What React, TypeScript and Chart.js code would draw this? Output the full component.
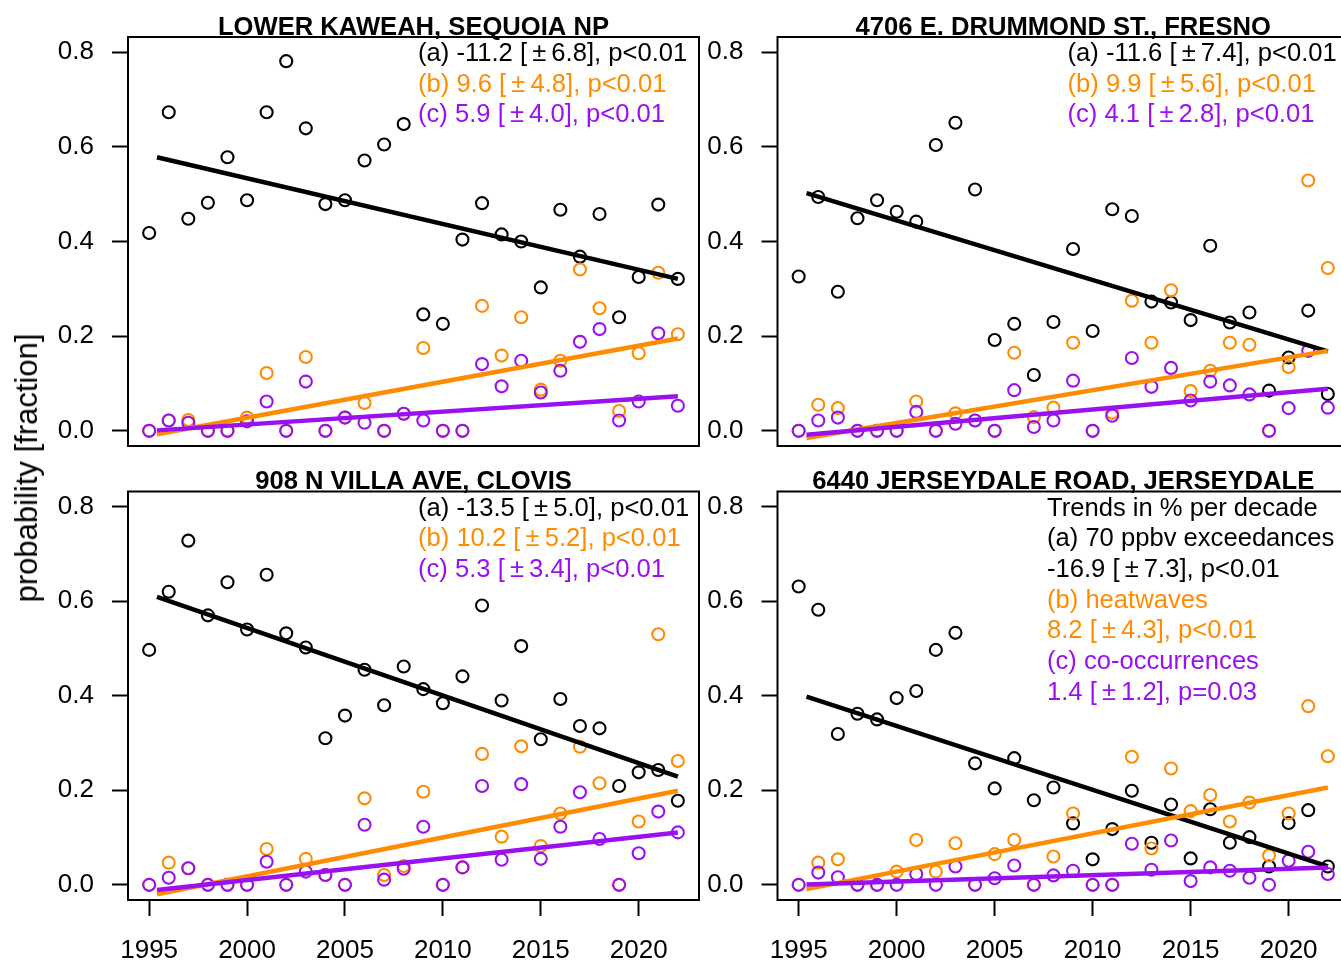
import React, { useEffect, useRef } from "react";
import { Chart, registerables } from "chart.js";

Chart.register(...registerables);

// ---------------- data ----------------
const years = [
  1995, 1996, 1997, 1998, 1999, 2000, 2001, 2002, 2003, 2004, 2005, 2006, 2007, 2008,
  2009, 2010, 2011, 2012, 2013, 2014, 2015, 2016, 2017, 2018, 2019, 2020, 2021, 2022,
];
const xTickYears = [1995, 2000, 2005, 2010, 2015, 2020];
const yTickValues = [0, 0.2, 0.4, 0.6, 0.8];
const trendYears = [1995.4, 2022];

// LOWER KAWEAH, SEQUOIA NP
const kaweahExceed = [0.418, 0.673, 0.448, 0.482, 0.578, 0.487, 0.673, 0.781, 0.639, 0.479, 0.487, 0.571, 0.605, 0.648, 0.246, 0.226, 0.404, 0.481, 0.415, 0.4, 0.303, 0.467, 0.368, 0.458, 0.24, 0.325, 0.478, 0.321];
const kaweahHeat = [0, 0.022, 0.023, 0, 0, 0.028, 0.122, 0, 0.156, 0, 0.028, 0.059, 0, 0.036, 0.175, 0, 0, 0.264, 0.159, 0.24, 0.087, 0.148, 0.341, 0.259, 0.042, 0.164, 0.334, 0.204];
const kaweahCooc = [0, 0.022, 0.017, 0, 0, 0.02, 0.062, 0, 0.104, 0, 0.028, 0.017, 0, 0.036, 0.022, 0, 0, 0.141, 0.094, 0.148, 0.081, 0.127, 0.188, 0.215, 0.022, 0.062, 0.206, 0.053];
const kaweahTrendExceed = [0.578, 0.321];
const kaweahTrendHeat = [-0.007, 0.195];
const kaweahTrendCooc = [0.001, 0.073];

// 4706 E. DRUMMOND ST., FRESNO
const fresnoExceed = [0.326, 0.494, 0.294, 0.449, 0.487, 0.463, 0.442, 0.604, 0.651, 0.51, 0.192, 0.226, 0.118, 0.23, 0.384, 0.211, 0.468, 0.454, 0.273, 0.271, 0.234, 0.391, 0.229, 0.25, 0.085, 0.155, 0.254, 0.078];
const fresnoHeat = [0, 0.055, 0.048, 0, 0, 0, 0.062, 0, 0.037, 0.022, 0, 0.165, 0.029, 0.049, 0.186, 0, 0.038, 0.275, 0.186, 0.297, 0.084, 0.127, 0.186, 0.182, 0, 0.135, 0.529, 0.344];
const fresnoCooc = [0, 0.022, 0.028, 0, 0, 0, 0.04, 0, 0.015, 0.022, 0, 0.086, 0.008, 0.022, 0.106, 0, 0.032, 0.154, 0.093, 0.133, 0.064, 0.104, 0.096, 0.077, 0, 0.048, 0.169, 0.049];
const fresnoTrendExceed = [0.502, 0.168];
const fresnoTrendHeat = [-0.015, 0.169];
const fresnoTrendCooc = [-0.008, 0.089];

// 908 N VILLA AVE, CLOVIS
const clovisExceed = [0.497, 0.62, 0.728, 0.57, 0.64, 0.54, 0.656, 0.532, 0.502, 0.31, 0.358, 0.455, 0.38, 0.462, 0.414, 0.384, 0.441, 0.591, 0.39, 0.505, 0.308, 0.393, 0.336, 0.331, 0.209, 0.238, 0.243, 0.178];
const clovisHeat = [0, 0.047, 0.035, 0, 0, 0, 0.076, 0, 0.055, 0.021, 0, 0.183, 0.021, 0.04, 0.197, 0, 0.037, 0.277, 0.102, 0.293, 0.082, 0.151, 0.292, 0.215, 0, 0.134, 0.53, 0.262];
const clovisCooc = [0, 0.015, 0.035, 0, 0, 0, 0.049, 0, 0.028, 0.021, 0, 0.127, 0.011, 0.034, 0.123, 0, 0.037, 0.209, 0.053, 0.213, 0.055, 0.123, 0.196, 0.097, 0, 0.067, 0.155, 0.111];
const clovisTrendExceed = [0.609, 0.229];
const clovisTrendHeat = [-0.02, 0.199];
const clovisTrendCooc = [-0.011, 0.111];

// 6440 JERSEYDALE ROAD, JERSEYDALE
const jerseyExceed = [0.631, 0.582, 0.319, 0.362, 0.35, 0.395, 0.41, 0.497, 0.533, 0.257, 0.204, 0.268, 0.179, 0.206, 0.13, 0.054, 0.118, 0.199, 0.089, 0.17, 0.056, 0.16, 0.089, 0.101, 0.039, 0.131, 0.158, 0.039];
const jerseyHeat = [0, 0.047, 0.054, 0, 0, 0.028, 0.095, 0.028, 0.088, 0, 0.065, 0.095, 0, 0.06, 0.151, 0, 0, 0.271, 0.077, 0.246, 0.156, 0.19, 0.134, 0.174, 0.062, 0.151, 0.378, 0.272];
const jerseyCooc = [0, 0.026, 0.016, 0, 0, 0, 0.023, 0, 0.039, 0, 0.014, 0.041, 0, 0.02, 0.03, 0, 0, 0.087, 0.032, 0.094, 0.008, 0.037, 0.03, 0.015, 0, 0.051, 0.07, 0.023];
const jerseyTrendExceed = [0.398, 0.039];
const jerseyTrendHeat = [-0.009, 0.206];
const jerseyTrendCooc = [0.001, 0.037];

// ---------------- styling ----------------
const FONT = '"Liberation Sans", Arial, Helvetica, sans-serif';
const BLACK = "#000000";
const ORANGE = "#FF8C00";
const PURPLE = "#9A10F0";
const X_MIN = 1993.92;
const X_MAX = 2023.08;
const Y_MIN = -0.032;
const Y_MAX = 0.832;

type Line = { text: string; color: string };
type PanelCfg = {
  title: string;
  exceed: number[];
  heat: number[];
  cooc: number[];
  tExceed: number[];
  tHeat: number[];
  tCooc: number[];
  lines: Line[];
  textDx: number;
  left: number;
  top: number;
  w: number;
  h: number;
  yWidth: number;
  padTop: number;
  padRight: number;
  padBottom: number;
  showX: boolean;
  xHeight: number;
};

const pm = "\u2009\u00B1\u2009";

const panels: PanelCfg[] = [
  {
    title: "LOWER KAWEAH, SEQUOIA NP",
    exceed: kaweahExceed, heat: kaweahHeat, cooc: kaweahCooc,
    tExceed: kaweahTrendExceed, tHeat: kaweahTrendHeat, tCooc: kaweahTrendCooc,
    lines: [
      { text: `(a) -11.2 [${pm}6.8], p<0.01`, color: BLACK },
      { text: `(b) 9.6 [${pm}4.8], p<0.01`, color: ORANGE },
      { text: `(c) 5.9 [${pm}4.0], p<0.01`, color: PURPLE },
    ],
    textDx: 290,
    left: 0, top: 0, w: 710, h: 490, yWidth: 128, padTop: 37, padRight: 11, padBottom: 44,
    showX: false, xHeight: 0,
  },
  {
    title: "4706 E. DRUMMOND ST., FRESNO",
    exceed: fresnoExceed, heat: fresnoHeat, cooc: fresnoCooc,
    tExceed: fresnoTrendExceed, tHeat: fresnoTrendHeat, tCooc: fresnoTrendCooc,
    lines: [
      { text: `(a) -11.6 [${pm}7.4], p<0.01`, color: BLACK },
      { text: `(b) 9.9 [${pm}5.6], p<0.01`, color: ORANGE },
      { text: `(c) 4.1 [${pm}2.8], p<0.01`, color: PURPLE },
    ],
    textDx: 290,
    left: 700, top: 0, w: 660, h: 490, yWidth: 77.5, padTop: 37, padRight: 11, padBottom: 44,
    showX: false, xHeight: 0,
  },
  {
    title: "908 N VILLA AVE, CLOVIS",
    exceed: clovisExceed, heat: clovisHeat, cooc: clovisCooc,
    tExceed: clovisTrendExceed, tHeat: clovisTrendHeat, tCooc: clovisTrendCooc,
    lines: [
      { text: `(a) -13.5 [${pm}5.0], p<0.01`, color: BLACK },
      { text: `(b) 10.2 [${pm}5.2], p<0.01`, color: ORANGE },
      { text: `(c) 5.3 [${pm}3.4], p<0.01`, color: PURPLE },
    ],
    textDx: 290,
    left: 0, top: 455, w: 710, h: 507, yWidth: 128, padTop: 36.5, padRight: 11, padBottom: 0,
    showX: true, xHeight: 62,
  },
  {
    title: "6440 JERSEYDALE ROAD, JERSEYDALE",
    exceed: jerseyExceed, heat: jerseyHeat, cooc: jerseyCooc,
    tExceed: jerseyTrendExceed, tHeat: jerseyTrendHeat, tCooc: jerseyTrendCooc,
    lines: [
      { text: "Trends in % per decade", color: BLACK },
      { text: "(a) 70 ppbv exceedances", color: BLACK },
      { text: `-16.9 [${pm}7.3], p<0.01`, color: BLACK },
      { text: "(b) heatwaves", color: ORANGE },
      { text: `8.2 [${pm}4.3], p<0.01`, color: ORANGE },
      { text: "(c) co-occurrences", color: PURPLE },
      { text: `1.4 [${pm}1.2], p=0.03`, color: PURPLE },
    ],
    textDx: 269.5,
    left: 700, top: 455, w: 660, h: 507, yWidth: 77.5, padTop: 36.5, padRight: 11, padBottom: 0,
    showX: true, xHeight: 62,
  },
];

function pts(vals: number[]) {
  return years.map((x, i) => ({ x, y: vals[i] }));
}
function trend(vals: number[]) {
  return trendYears.map((x, i) => ({ x, y: vals[i] }));
}

function Panel({ cfg }: { cfg: PanelCfg }) {
  const ref = useRef<HTMLCanvasElement>(null);
  useEffect(() => {
    const canvas = ref.current;
    if (!canvas) return;
    const deco = {
      id: "deco",
      afterDraw(chart: any) {
        const { ctx, chartArea } = chart;
        const { left, top, right, bottom } = chartArea;
        ctx.save();
        ctx.strokeStyle = "#000";
        ctx.lineWidth = 2;
        ctx.strokeRect(left, top, right - left, bottom - top);
        // title
        ctx.fillStyle = "#000";
        ctx.font = `bold 25.6px ${FONT}`;
        ctx.textAlign = "center";
        ctx.textBaseline = "alphabetic";
        ctx.fillText(cfg.title, (left + right) / 2, top - 2.5);
        // trend text
        ctx.font = `25.6px ${FONT}`;
        ctx.textAlign = "left";
        cfg.lines.forEach((ln, i) => {
          ctx.fillStyle = ln.color;
          ctx.fillText(ln.text, left + cfg.textDx, top + 24 + i * 30.7);
        });
        ctx.restore();
      },
    };
    const pointDs = (data: any, color: string) => ({
      data,
      showLine: false,
      pointStyle: "circle",
      pointRadius: 6,
      pointHoverRadius: 6,
      pointBorderWidth: 2.1,
      borderColor: color,
      backgroundColor: "rgba(0,0,0,0)",
      pointBackgroundColor: "rgba(0,0,0,0)",
      pointBorderColor: color,
    });
    const lineDs = (data: any, color: string) => ({
      data,
      showLine: true,
      pointRadius: 0,
      borderColor: color,
      borderWidth: 4.5,
      backgroundColor: color,
      borderCapStyle: "butt",
    });
    const tickFont = { family: FONT, size: 26 };
    const chart = new Chart(canvas, {
      type: "scatter",
      data: {
        datasets: [
          lineDs(trend(cfg.tCooc), PURPLE),
          lineDs(trend(cfg.tHeat), ORANGE),
          lineDs(trend(cfg.tExceed), BLACK),
          pointDs(pts(cfg.cooc), PURPLE),
          pointDs(pts(cfg.heat), ORANGE),
          pointDs(pts(cfg.exceed), BLACK),
        ] as any,
      },
      options: {
        animation: false,
        responsive: false,
        maintainAspectRatio: false,
        devicePixelRatio: 1,
        events: [],
        layout: { padding: { left: 0, right: cfg.padRight, top: cfg.padTop, bottom: cfg.padBottom } },
        plugins: { legend: { display: false }, tooltip: { enabled: false }, title: { display: false } },
        scales: {
          x: {
            type: "linear",
            min: X_MIN,
            max: X_MAX,
            display: cfg.showX,
            afterBuildTicks: (s: any) => {
              s.ticks = xTickYears.map((v) => ({ value: v }));
            },
            afterFit: (s: any) => {
              if (cfg.showX) s.height = cfg.xHeight;
            },
            border: { display: false },
            grid: {
              display: true,
              drawOnChartArea: false,
              drawTicks: true,
              tickLength: 16,
              tickWidth: 2,
              tickColor: "#000",
              color: "#000",
            },
            ticks: {
              font: tickFont,
              color: "#000",
              padding: 19,
              autoSkip: false,
              maxRotation: 0,
              minRotation: 0,
              callback: (v: any) => String(v),
            },
          },
          y: {
            type: "linear",
            min: Y_MIN,
            max: Y_MAX,
            afterBuildTicks: (s: any) => {
              s.ticks = yTickValues.map((v) => ({ value: v }));
            },
            afterFit: (s: any) => {
              s.width = cfg.yWidth;
            },
            border: { display: false },
            grid: {
              display: true,
              drawOnChartArea: false,
              drawTicks: true,
              tickLength: 16,
              tickWidth: 2,
              tickColor: "#000",
              color: "#000",
            },
            ticks: {
              font: tickFont,
              color: "#000",
              padding: 18,
              autoSkip: false,
              callback: (v: any) => Number(v).toFixed(1),
            },
          },
        },
      } as any,
      plugins: [deco],
    });
    return () => chart.destroy();
  }, [cfg]);
  return (
    <canvas
      ref={ref}
      width={cfg.w}
      height={cfg.h}
      style={{ position: "absolute", left: cfg.left, top: cfg.top, width: cfg.w, height: cfg.h }}
    />
  );
}

export default function App() {
  return (
    <div
      style={{
        position: "fixed",
        left: 0,
        top: 0,
        width: 1341,
        height: 962,
        overflow: "hidden",
        background: "#ffffff",
      }}
    >
      {panels.map((p) => (
        <Panel key={p.title} cfg={p} />
      ))}
      <div
        style={{
          position: "absolute",
          left: 27,
          top: 468,
          transform: "translate(-50%, -50%) rotate(-90deg)",
          font: `31px ${FONT}`,
          color: "#000",
          whiteSpace: "nowrap",
        }}
      >
        probability [fraction]
      </div>
    </div>
  );
}
